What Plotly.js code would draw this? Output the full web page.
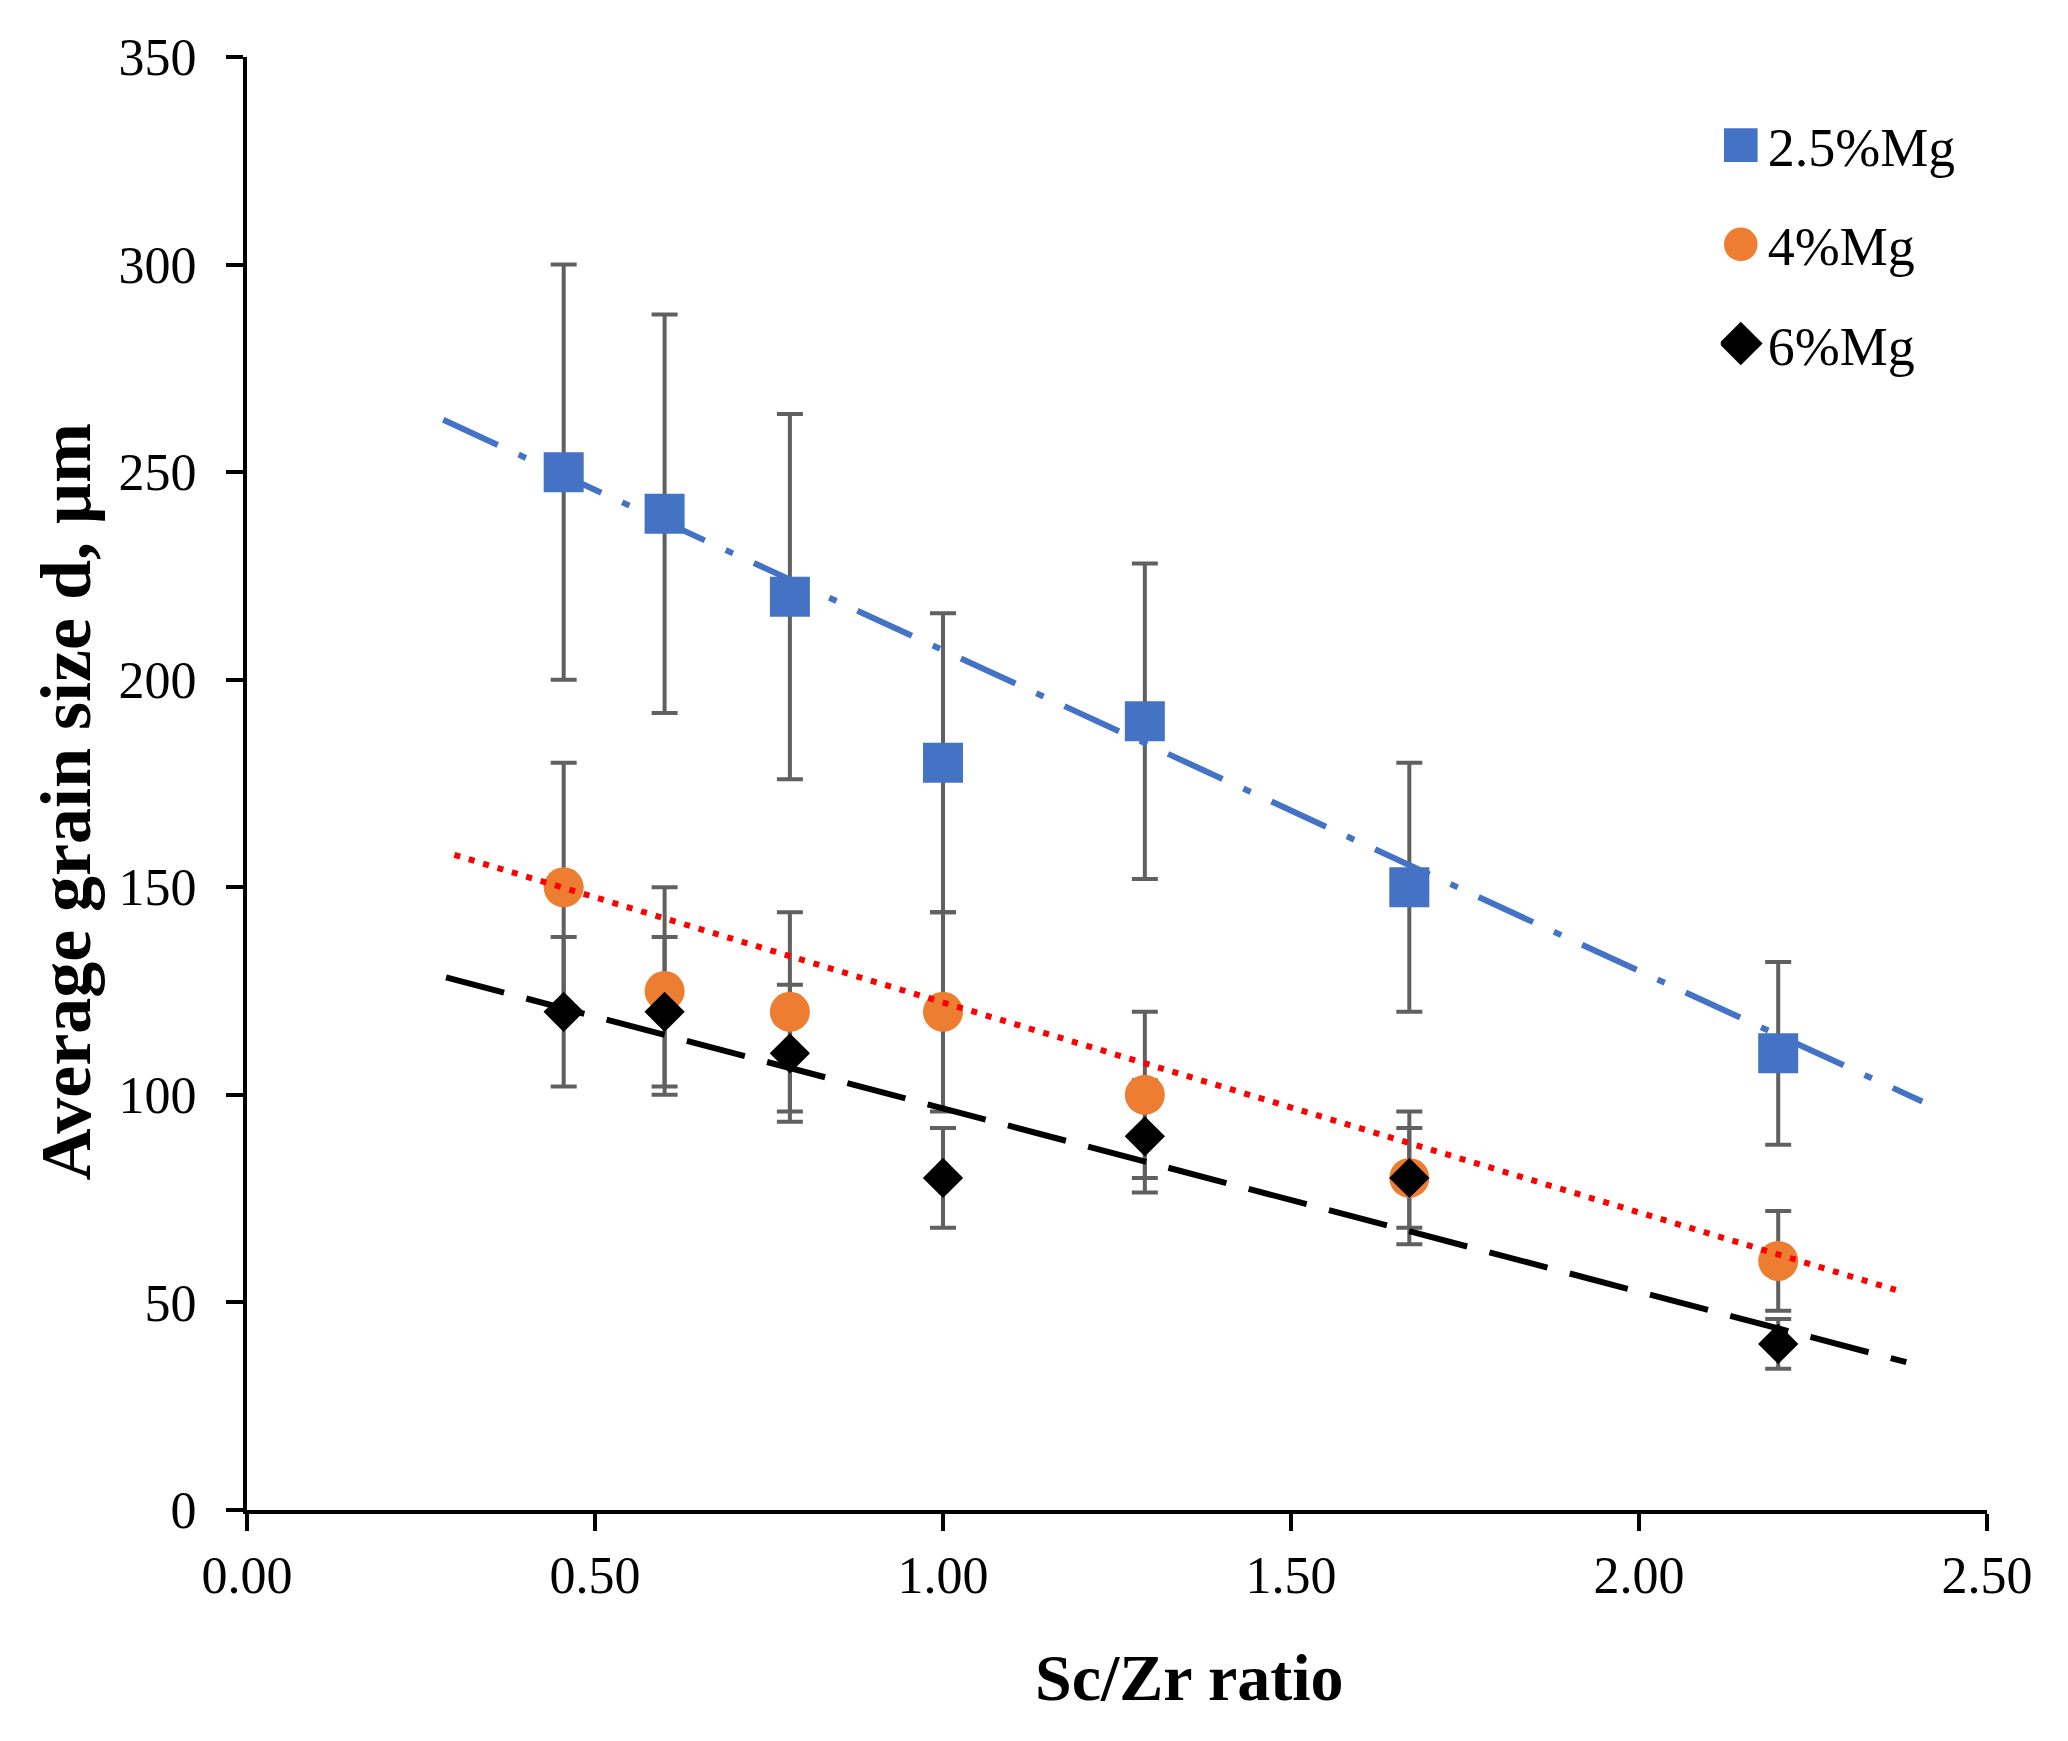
<!DOCTYPE html>
<html>
<head>
<meta charset="utf-8">
<script src="https://cdn.plot.ly/plotly-3.0.1.min.js"></script>
<style>
  html, body { margin: 0; padding: 0; background: #fff; }
  #chart { width: 2068px; height: 1741px; }
</style>
</head>
<body>
<div id="chart"></div>
<script>
var config = { displayModeBar: false, displaylogo: false };

// Sc/Zr ratio of the alloys
var scZr = [0.455, 0.60, 0.78, 1.00, 1.29, 1.67, 2.20];

// average grain size, um
var mg25 = [250, 240, 220, 180, 190, 150, 110];
var mg4 = [150, 125, 120, 120, 100, 80, 60];
var mg6 = [120, 120, 110, 80, 90, 80, 40];

// error bar half-lengths
var mg25Err = [50, 48, 44, 36, 38, 30, 22];
var mg4Err = [30, 25, 24, 24, 20, 16, 12];
var mg6Err = [18, 18, 16.5, 12, 13.5, 12, 6];

// trend lines
var mg25TrendX = [0.282, 2.407];
var mg25TrendY = [262.6, 98.4];
var mg4TrendX = [0.298, 2.369];
var mg4TrendY = [157.8, 53.0];
var mg6TrendX = [0.286, 2.384];
var mg6TrendY = [128.3, 35.6];

var names = ['2.5%Mg', '4%Mg', '6%Mg'];

var font = 'Liberation Serif, Times New Roman, serif';
var errColor = '#606060';

function errTrace(y, err) {
    return {
        x: scZr, y: y, type: 'scatter', mode: 'markers',
        marker: { size: 1, opacity: 0 },
        error_y: { type: 'data', array: err, visible: true,
                   color: errColor, thickness: 4, width: 13 },
        showlegend: false, hoverinfo: 'skip'
    };
}

function trendTrace(x, y, color, dash, width) {
    return {
        x: x, y: y, type: 'scatter', mode: 'lines',
        line: { color: color, dash: dash, width: width },
        showlegend: false, hoverinfo: 'skip'
    };
}

var data = [
    errTrace(mg25, mg25Err),
    errTrace(mg4, mg4Err),
    errTrace(mg6, mg6Err),
    {
        x: scZr, y: mg25, name: names[0], legendgroup: 'a',
        type: 'scatter', mode: 'markers',
        marker: { symbol: 'square', size: 40, color: '#4472C4' }
    },
    {
        x: scZr, y: mg4, name: names[1], legendgroup: 'b',
        type: 'scatter', mode: 'markers',
        marker: { symbol: 'circle', size: 40, color: '#ED7D31' }
    },
    trendTrace(mg25TrendX, mg25TrendY, '#4472C4', '60px,23px,8px,23px', 6),
    trendTrace(mg4TrendX, mg4TrendY, '#FF0000', '6px,9px', 6),
    {
        x: scZr, y: mg6, name: names[2], legendgroup: 'c',
        type: 'scatter', mode: 'markers',
        marker: { symbol: 'diamond', size: 31, color: '#000000' }
    },
    trendTrace(mg6TrendX, mg6TrendY, '#000000', '60px,23px', 6)
];

var layout = {
    width: 2068,
    height: 1741,
    margin: { l: 247, r: 81, t: 57, b: 231 },
    paper_bgcolor: '#ffffff',
    plot_bgcolor: '#ffffff',
    font: { family: font, color: '#000000', size: 52 },
    showlegend: true,
    legend: {
        x: 0.847, xanchor: 'left',
        y: 0.968, yanchor: 'top',
        font: { family: font, size: 54, color: '#000000' },
        tracegroupgap: 26,
        bgcolor: 'rgba(0,0,0,0)'
    },
    xaxis: {
        range: [0, 2.5],
        tick0: 0, dtick: 0.5,
        tickformat: '.2f',
        showline: true, linecolor: '#000000', linewidth: 4,
        ticks: 'outside', ticklen: 17, tickwidth: 4, tickcolor: '#000000',
        showgrid: false, zeroline: false,
        tickfont: { family: font, size: 52, color: '#000000' }
    },
    yaxis: {
        range: [0, 350],
        tick0: 0, dtick: 50,
        showline: true, linecolor: '#000000', linewidth: 4,
        ticks: 'outside', ticklen: 17, tickwidth: 4, tickcolor: '#000000',
        ticklabelstandoff: 19,
        showgrid: false, zeroline: false,
        tickfont: { family: font, size: 52, color: '#000000' }
    },
    annotations: [
        {
            text: '<b>Sc/Zr ratio</b>',
            xref: 'paper', yref: 'paper',
            x: 0.5414, y: -0.1156,
            xanchor: 'center', yanchor: 'middle',
            showarrow: false,
            font: { family: font, size: 66, color: '#000000' }
        },
        {
            text: '<b>Average grain size d, μm</b>',
            xref: 'paper', yref: 'paper',
            x: -0.104, y: 0.487,
            xanchor: 'center', yanchor: 'middle',
            textangle: -90,
            showarrow: false,
            font: { family: font, size: 72, color: '#000000' }
        }
    ]
};

Plotly.newPlot('chart', data, layout, config).then(function (gd) {
    // make the legend symbols as big as in the figure
    var pts = gd.querySelectorAll('.legend .legendpoints path');
    pts.forEach(function (p) {
        var t = p.getAttribute('transform') || '';
        p.setAttribute('transform', t + ' scale(2.1)');
    });
    // and leave a little more room between symbol and text
    gd.querySelectorAll('.legend .legendtext').forEach(function (t) {
        var x = parseFloat(t.getAttribute('x')) || 0;
        t.setAttribute('x', x + 7);
    });
});
</script>
</body>
</html>
